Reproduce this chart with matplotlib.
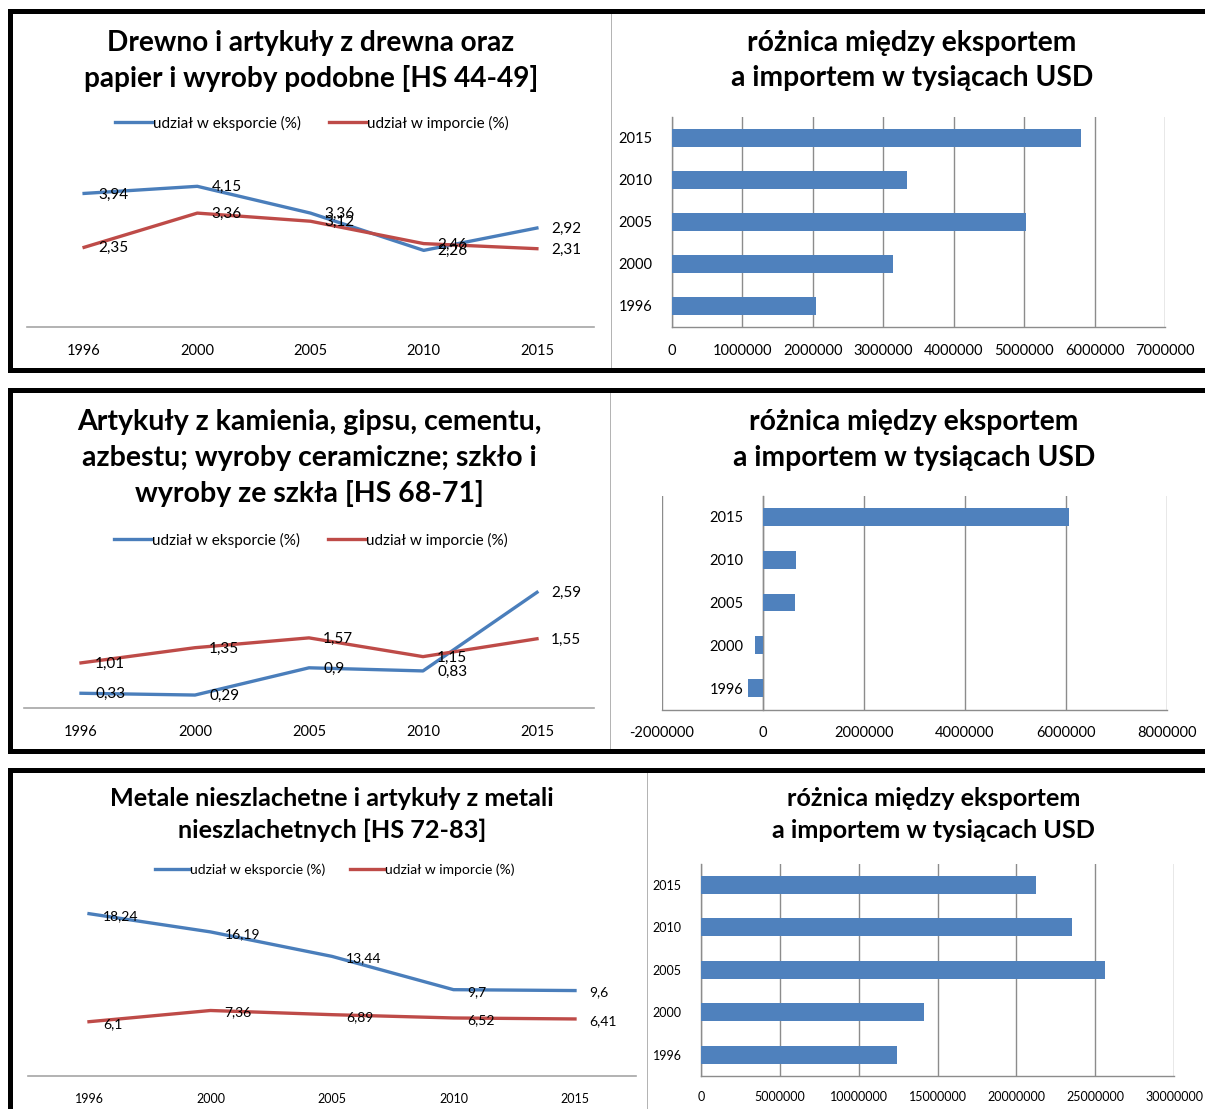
import matplotlib
matplotlib.use('Agg')
import matplotlib.pyplot as plt
from matplotlib.patches import Rectangle
from matplotlib.ticker import FuncFormatter
import numpy as np

plt.rcParams['font.family'] = ['Lato', 'DejaVu Sans']

# data
years = ['1996', '2000', '2005', '2010', '2015']

wood_exp = [3.94, 4.15, 3.36, 2.26, 2.92]
wood_imp = [2.35, 3.36, 3.12, 2.46, 2.31]
wood_diff = [2050000, 3140000, 5030000, 3340000, 5810000]

stone_exp = [0.33, 0.29, 0.9, 0.83, 2.59]
stone_imp = [1.01, 1.35, 1.57, 1.15, 1.55]
stone_diff = [-300000, -160000, 630000, 650000, 6060000]

metal_exp = [18.24, 16.19, 13.44, 9.7, 9.6]
metal_imp = [6.1, 7.36, 6.89, 6.52, 6.41]
metal_diff = [12440000, 14150000, 25630000, 23540000, 21260000]

lbl_exp = 'udział w eksporcie (%)'
lbl_imp = 'udział w imporcie (%)'
title_wood = ['Drewno i artykuły z drewna oraz', 'papier i wyroby podobne [HS 44-49]']
title_stone = ['Artykuły z kamienia, gipsu, cementu,', 'azbestu; wyroby ceramiczne; szkło i',
               'wyroby ze szkła [HS 68-71]']
title_metal = ['Metale nieszlachetne i artykuły z metali', 'nieszlachetnych [HS 72-83]']
title_diff = ['różnica między eksportem', 'a importem w tysiącach USD']

BLUE = '#4A7EBB'
RED = '#BE4B48'
BAR = '#4F81BD'
GRID = '#8C8C8C'
AXIS = '#A6A6A6'

W, H = 1205, 1109
fig = plt.figure(figsize=(W / 100, H / 100), dpi=100)


def rect(x0, y0, x1, y1):
    return [x0 / W, 1 - y1 / H, (x1 - x0) / W, (y1 - y0) / H]


def box(x0, y0, x1, y1, color='black'):
    fig.add_artist(Rectangle((x0 / W, 1 - y1 / H), (x1 - x0) / W, (y1 - y0) / H,
                             transform=fig.transFigure, color=color, lw=0))


def title(lines, xc, y0, step, size):
    for i, t in enumerate(lines):
        fig.text(xc / W, 1 - (y0 + i * step) / H, t, ha='center', va='center',
                 fontsize=size, fontweight='bold')


def fmt(v):
    return str(v).replace('.', ',')


def line_panel(px, ymax, exp, imp, leg_xy, fs_lbl, fs_tick, fs_leg, pad=12, dy=1):
    ax = fig.add_axes(rect(*px))
    x = np.arange(len(years))
    ax.plot(x, exp, color=BLUE, lw=2.4, label=lbl_exp)
    ax.plot(x, imp, color=RED, lw=2.4, label=lbl_imp)
    ax.set_xlim(-0.5, len(years) - 0.5)
    ax.set_ylim(0, ymax)
    for s in ['top', 'right', 'left']:
        ax.spines[s].set_visible(False)
    ax.spines['bottom'].set_color(AXIS)
    ax.spines['bottom'].set_linewidth(1.2)
    ax.set_yticks([])
    ax.set_xticks(x, years)
    ax.tick_params(axis='x', length=0, pad=pad, labelsize=fs_tick)
    for series in (exp, imp):
        for i, v in enumerate(series):
            ax.annotate(fmt(v), (i, v), xytext=(14, -dy), textcoords='offset pixels',
                        ha='left', va='center', fontsize=fs_lbl, zorder=5)
    ax.legend(loc='center', bbox_to_anchor=(leg_xy[0] / W, 1 - leg_xy[1] / H),
              bbox_transform=fig.transFigure, ncol=2, frameon=False,
              fontsize=fs_leg, handlelength=2.4, handletextpad=0.1,
              columnspacing=1.8)
    return ax


def bar_panel(px, xlim, step, vals, fs_tick, pad=12):
    ax = fig.add_axes(rect(*px))
    y = np.arange(len(years))
    ax.barh(y, vals, height=0.42, color=BAR, zorder=3)
    ax.set_ylim(-0.5, len(years) - 0.5)
    ax.set_xlim(*xlim)
    ax.set_xticks(np.arange(xlim[0], xlim[1] + step, step))
    ax.xaxis.set_major_formatter(FuncFormatter(lambda v, p: f'{v:.0f}'))
    ax.xaxis.grid(True, color=GRID, lw=1.0)
    ax.set_axisbelow(True)
    ax.spines['top'].set_visible(False)
    ax.spines['right'].set_visible(False)
    ax.spines['left'].set_position(('data', 0))
    for s in ['left', 'bottom']:
        ax.spines[s].set_color(GRID)
        ax.spines[s].set_linewidth(1.0)
    ax.set_yticks(y, years)
    ax.tick_params(axis='x', length=0, pad=pad, labelsize=fs_tick)
    ax.tick_params(axis='y', length=0, pad=14, labelsize=fs_tick)
    return ax


# frames
box(8, 9, W, 14); box(8, 9, 13, 373); box(8, 368, W, 373)
box(8, 388, W, 393); box(8, 388, 13, 754); box(8, 749, W, 754)
box(8, 768, W, 773); box(8, 768, 13, H)
box(610.5, 14, 612, 368, '#B4B4B4')
box(609.5, 393, 611, 749, '#B4B4B4')
box(646.5, 773, 648, H, '#B4B4B4')

# row 1
title(title_wood, 311, 43, 35, 20.2)
line_panel((27.5, 157.5, 593.5, 327), 5, wood_exp, wood_imp, (312, 123), 11, 10.5, 11)
title(title_diff, 912, 43, 35, 20.3)
bar_panel((672, 117, 1165, 327), (0, 7000000), 1000000, wood_diff, 10.5)

# row 2
title(title_stone, 309, 422, 36, 20.5)
line_panel((24, 574, 594, 708), 3, stone_exp, stone_imp, (311, 540), 11, 10.5, 11)
title(title_diff, 914, 422, 36, 20.3)
bar_panel((662, 495.5, 1167, 709.5), (-2000000, 8000000), 2000000, stone_diff, 10.5)

# row 3
title(title_metal, 332, 799, 31, 18.2)
line_panel((28.25, 898, 635.75, 1076), 20, metal_exp, metal_imp, (335, 870), 10, 9, 10,
           pad=12, dy=2)
title(title_diff, 934, 799, 31, 18.2)
bar_panel((701, 863.5, 1174, 1076), (0, 30000000), 5000000, metal_diff, 9, pad=11)

fig.savefig('out.png', dpi=100)
